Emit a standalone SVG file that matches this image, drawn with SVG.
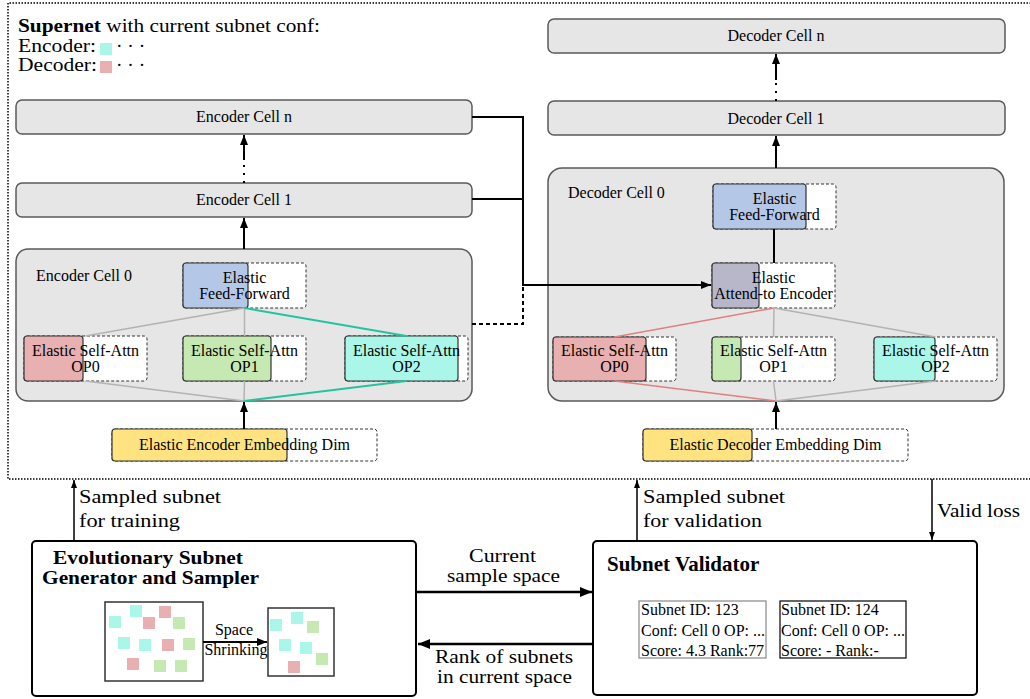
<svg xmlns="http://www.w3.org/2000/svg" width="1030" height="699" viewBox="0 0 1030 699">
<defs>
<marker id="ah" viewBox="0 0 10 8" refX="10" refY="4" markerWidth="10" markerHeight="8" markerUnits="userSpaceOnUse" orient="auto"><path d="M0,0 L10,4 L0,8 z" fill="#000"/></marker>
<marker id="ahs" viewBox="0 0 8 6" refX="8" refY="3" markerWidth="8" markerHeight="7" markerUnits="userSpaceOnUse" orient="auto"><path d="M0,0 L8,3 L0,6 z" fill="#000"/></marker>
<marker id="ahl" viewBox="0 0 12 10" refX="12" refY="5" markerWidth="12" markerHeight="10" markerUnits="userSpaceOnUse" orient="auto"><path d="M0,0 L12,5 L0,10 z" fill="#000"/></marker>
</defs>
<style>
text{font-family:"Liberation Serif","Times New Roman",serif;fill:#000}
.cell{fill:#e6e6e6;stroke:#5a5a5a;stroke-width:1.5}
.dash{fill:#fff;stroke:#333;stroke-width:1;stroke-dasharray:3 2}
.solid{stroke:#333;stroke-width:1.2}
.blue{fill:#b4c7e7}.red{fill:#e8b0b0}.green{fill:#c6e8b2}.cyan{fill:#aaf7e9}.yel{fill:#ffe381}.pur{fill:#b8b7c9}
.t16{font-size:16px}.t15{font-size:16px}
.t21{font-size:21px}.t20{font-size:19.5px}.b{font-weight:bold}
.mid{text-anchor:middle}
.bk{stroke:#000;stroke-width:2;fill:none}
.thin{stroke:#000;stroke-width:1.5;fill:none}
.gry{stroke:#b3b3b3;stroke-width:1.5;fill:none}
.tel{stroke:#22c4a0;stroke-width:2;fill:none}
.rl{stroke:#e08080;stroke-width:1.5;fill:none}
.box{fill:#fff;stroke:#000;stroke-width:2}
.sq{fill:#fff;stroke:#333;stroke-width:1.5}
</style>

<!-- outer dotted supernet frame -->
<path d="M1034,3 H8 V479 H1034" fill="none" stroke="#000" stroke-width="1.5" stroke-dasharray="1.5 1.5"/>

<g id="title">
<text x="18" y="32" class="t20" textLength="302" lengthAdjust="spacingAndGlyphs"><tspan font-weight="bold">Supernet</tspan> with current subnet conf:</text>
<text x="18" y="51.5" class="t20" textLength="78" lengthAdjust="spacingAndGlyphs">Encoder:</text>
<rect x="100" y="43" width="12" height="12" class="cyan"/>
<text x="116" y="51.5" class="t20">· · ·</text>
<text x="18" y="71" class="t20" textLength="79" lengthAdjust="spacingAndGlyphs">Decoder:</text>
<rect x="100" y="61" width="12" height="12" class="red"/>
<text x="116" y="71" class="t20">· · ·</text>
</g>

<g id="enc-cell-n"><rect x="16" y="100" width="456" height="34" rx="6" class="cell"/><text x="244" y="122" class="t15 mid">Encoder Cell n</text></g>
<g id="enc-cell-1"><rect x="16" y="183" width="456" height="34" rx="6" class="cell"/><text x="244" y="205" class="t15 mid">Encoder Cell 1</text></g>
<g id="enc-cell-0"><rect x="16" y="249" width="456" height="152" rx="12" class="cell"/><text x="36" y="281" class="t16">Encoder Cell 0</text></g>

<g id="dec-cell-n"><rect x="548" y="19" width="457" height="34" rx="6" class="cell"/><text x="776" y="41" class="t15 mid">Decoder Cell n</text></g>
<g id="dec-cell-1"><rect x="548" y="101" width="457" height="34" rx="6" class="cell"/><text x="776" y="124" class="t15 mid">Decoder Cell 1</text></g>
<g id="dec-cell-0"><rect x="548" y="168" width="456" height="233" rx="14" class="cell"/><text x="568" y="198" class="t16">Decoder Cell 0</text></g>

<!-- encoder internals -->
<g id="enc-ff"><rect x="183" y="263" width="123" height="45" rx="3" class="dash"/><rect x="183" y="263" width="65" height="45" rx="3" class="blue solid"/>
<text x="244.5" y="283" class="t16 mid">Elastic</text><text x="244.5" y="299" class="t16 mid">Feed-Forward</text></g>
<g id="enc-op0"><rect x="24" y="336" width="123" height="45" rx="3" class="dash"/><rect x="24" y="336" width="59" height="45" rx="3" class="red solid"/>
<text x="85.5" y="356" class="t16 mid">Elastic Self-Attn</text><text x="85.5" y="372" class="t16 mid">OP0</text></g>
<g id="enc-op1"><rect x="183" y="336" width="123" height="45" rx="3" class="dash"/><rect x="183" y="336" width="88" height="45" rx="3" class="green solid"/>
<text x="244.5" y="356" class="t16 mid">Elastic Self-Attn</text><text x="244.5" y="372" class="t16 mid">OP1</text></g>
<g id="enc-op2"><rect x="345" y="336" width="123" height="45" rx="3" class="dash"/><rect x="345" y="336" width="113" height="45" rx="3" class="cyan solid"/>
<text x="406.5" y="356" class="t16 mid">Elastic Self-Attn</text><text x="406.5" y="372" class="t16 mid">OP2</text></g>
<g id="enc-emb"><rect x="112" y="429" width="265" height="32" rx="3" class="dash"/><rect x="112" y="429" width="175" height="32" rx="3" class="yel solid"/>
<text x="244.5" y="450" class="t16 mid">Elastic Encoder Embedding Dim</text></g>

<!-- decoder internals -->
<g id="dec-ff"><rect x="713" y="184" width="123" height="45" rx="3" class="dash"/><rect x="713" y="184" width="93" height="45" rx="3" class="blue solid"/>
<text x="774.5" y="204" class="t16 mid">Elastic</text><text x="774.5" y="220" class="t16 mid">Feed-Forward</text></g>
<g id="dec-attn"><rect x="712" y="263" width="123" height="45" rx="3" class="dash"/><rect x="712" y="263" width="47" height="45" rx="3" class="pur solid"/>
<text x="773.5" y="283" class="t16 mid">Elastic</text><text x="773.5" y="299" class="t16 mid">Attend-to Encoder</text></g>
<g id="dec-op0"><rect x="553" y="337" width="123" height="44" rx="3" class="dash"/><rect x="553" y="337" width="93" height="44" rx="3" class="red solid"/>
<text x="614.5" y="356" class="t16 mid">Elastic Self-Attn</text><text x="614.5" y="372" class="t16 mid">OP0</text></g>
<g id="dec-op1"><rect x="712" y="337" width="123" height="44" rx="3" class="dash"/><rect x="712" y="337" width="29" height="44" rx="3" class="green solid"/>
<text x="773.5" y="356" class="t16 mid">Elastic Self-Attn</text><text x="773.5" y="372" class="t16 mid">OP1</text></g>
<g id="dec-op2"><rect x="874" y="337" width="123" height="44" rx="3" class="dash"/><rect x="874" y="337" width="61" height="44" rx="3" class="cyan solid"/>
<text x="935.5" y="356" class="t16 mid">Elastic Self-Attn</text><text x="935.5" y="372" class="t16 mid">OP2</text></g>
<g id="dec-emb"><rect x="643" y="429" width="265" height="32" rx="3" class="dash"/><rect x="643" y="429" width="109" height="32" rx="3" class="yel solid"/>
<text x="775.5" y="450" class="t16 mid">Elastic Decoder Embedding Dim</text></g>

<!-- bottom nodes -->
<g id="evo">
<rect x="32" y="541" width="384" height="155" rx="4" class="box"/>
<text x="53" y="564" class="t20 b" textLength="190" lengthAdjust="spacingAndGlyphs">Evolutionary Subnet</text>
<text x="42" y="584" class="t20 b" textLength="217" lengthAdjust="spacingAndGlyphs">Generator and Sampler</text>
<rect x="105" y="602" width="98" height="79" class="sq"/>
<rect x="109" y="616" width="12" height="12" class="cyan"/>
<rect x="130" y="605" width="12" height="12" class="cyan"/>
<rect x="159" y="606" width="12" height="12" class="red"/>
<rect x="143" y="617" width="12" height="12" class="red"/>
<rect x="173" y="617" width="12" height="12" class="green"/>
<rect x="118" y="637" width="12" height="12" class="cyan"/>
<rect x="139" y="639" width="12" height="12" class="cyan"/>
<rect x="162" y="639" width="12" height="12" class="red"/>
<rect x="183" y="638" width="12" height="12" class="green"/>
<rect x="127" y="658" width="12" height="12" class="red"/>
<rect x="154" y="660" width="12" height="12" class="green"/>
<rect x="175" y="660" width="12" height="12" class="green"/>
<rect x="268" y="608" width="66" height="68" class="sq"/>
<rect x="270" y="619" width="12" height="12" class="cyan"/>
<rect x="291" y="612" width="12" height="12" class="cyan"/>
<rect x="307" y="621" width="12" height="12" class="green"/>
<rect x="279" y="639" width="12" height="12" class="cyan"/>
<rect x="300" y="642" width="12" height="12" class="cyan"/>
<rect x="316" y="653" width="12" height="12" class="green"/>
<rect x="288" y="661" width="12" height="12" class="red"/>
<text x="234" y="635" class="t16 mid">Space</text>
<text x="236" y="655" class="t16 mid">Shrinking</text>
</g>

<g id="validator">
<rect x="593" y="541" width="384" height="154" rx="4" class="box"/>
<text x="607" y="571" class="t21 b">Subnet Validator</text>
<rect x="639" y="601" width="127" height="57" fill="#fff" stroke="#888" stroke-width="1.2"/>
<text x="641" y="615" class="t16">Subnet ID: 123</text>
<text x="641" y="636" class="t16">Conf: Cell 0 OP: ...</text>
<text x="641" y="656" class="t16">Score: 4.3 Rank:77</text>
<rect x="780" y="601" width="126" height="57" fill="#fff" stroke="#000" stroke-width="1.2"/>
<text x="781" y="615" class="t16">Subnet ID: 124</text>
<text x="781" y="636" class="t16">Conf: Cell 0 OP: ...</text>
<text x="781" y="656" class="t16">Score: - Rank:-</text>
</g>

<g id="connectors">
<!-- encoder stack -->
<path d="M244,249 V218" class="bk" marker-end="url(#ah)"/>
<path d="M244,183 V160" class="bk" stroke-dasharray="2 6"/>
<path d="M244,160 V135" class="bk" marker-end="url(#ah)"/>
<path d="M244,429 V402" class="bk" marker-end="url(#ah)"/>
<path d="M244.5,308 L85.5,336 M244.5,308 V336" class="gry"/>
<path d="M244.5,308 L406.5,336" class="tel"/>
<path d="M85.5,381 L244,401 M244.5,381 L244,401" class="gry"/>
<path d="M406.5,381 L244,401" class="tel"/>
<!-- decoder stack -->
<path d="M776,168 V136" class="bk" marker-end="url(#ah)"/>
<path d="M776,101 V80" class="bk" stroke-dasharray="2 6"/>
<path d="M776,80 V54" class="bk" marker-end="url(#ah)"/>
<path d="M776,429 V402" class="bk" marker-end="url(#ah)"/>
<path d="M774,229 V263" class="bk"/>
<path d="M774,308 L614.5,337 M614.5,381 L776,401" class="rl"/>
<path d="M774,308 L773.5,337 M774,308 L935.5,337 M773.5,381 L776,401 M935.5,381 L776,401" class="gry"/>
<!-- encoder to decoder -->
<path d="M472,117 H523 V285 H711" class="bk" marker-end="url(#ah)"/>
<path d="M472,199 H523" class="bk"/>
<path d="M472,324 H523 V285" class="bk" stroke-dasharray="4 3"/>
<!-- bottom -->
<path d="M74,541 V480" class="thin" marker-end="url(#ahs)"/>
<path d="M637,541 V480" class="thin" marker-end="url(#ahs)"/>
<path d="M932,479 V540" class="thin" marker-end="url(#ahs)"/>
<path d="M417,592 H592" stroke="#000" stroke-width="2.5" fill="none" marker-end="url(#ahl)"/>
<path d="M592,644 H418" stroke="#000" stroke-width="2.5" fill="none" marker-end="url(#ahl)"/>
<path d="M203,642 H267" class="bk" marker-end="url(#ah)"/>
</g>

<g id="labels">
<text x="79" y="503" class="t20" textLength="142" lengthAdjust="spacingAndGlyphs">Sampled subnet</text>
<text x="79" y="527" class="t20" textLength="101" lengthAdjust="spacingAndGlyphs">for training</text>
<text x="643" y="503" class="t20" textLength="142" lengthAdjust="spacingAndGlyphs">Sampled subnet</text>
<text x="643" y="527" class="t20" textLength="119" lengthAdjust="spacingAndGlyphs">for validation</text>
<text x="937" y="517" class="t20" textLength="83" lengthAdjust="spacingAndGlyphs">Valid loss</text>
<text x="469" y="562" class="t20" textLength="67" lengthAdjust="spacingAndGlyphs">Current</text>
<text x="447" y="581.5" class="t20" textLength="113" lengthAdjust="spacingAndGlyphs">sample space</text>
<text x="435" y="663" class="t20" textLength="138" lengthAdjust="spacingAndGlyphs">Rank of subnets</text>
<text x="437" y="682.5" class="t20" textLength="135" lengthAdjust="spacingAndGlyphs">in current space</text>
</g>
</svg>
